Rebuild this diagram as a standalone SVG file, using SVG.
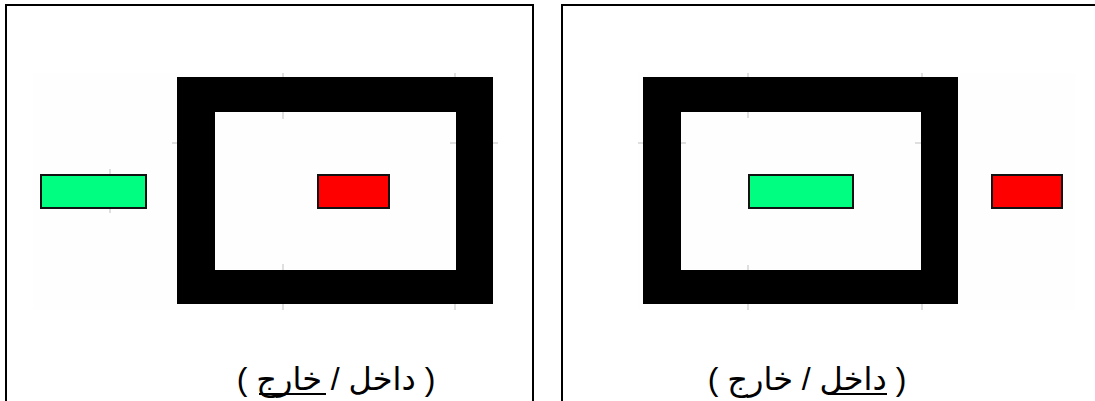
<svg xmlns="http://www.w3.org/2000/svg" width="1095" height="401" viewBox="0 0 1095 401">
  <style>
    .panel { fill: none; stroke: #000; stroke-width: 2; }
    .plot { fill: #fefefe; stroke: none; }
    .frame { fill: #000; fill-rule: evenodd; }
    .green { fill: #00ff80; stroke: #111; stroke-width: 2; }
    .red { fill: #ff0000; stroke: #111; stroke-width: 2; }
    .tick { stroke: #c0c0c0; stroke-width: 1; }
    .label { font-family: "Liberation Sans", "DejaVu Sans", sans-serif; font-size: 32px; fill: #000; }
    .ul { stroke: #000; stroke-width: 2; }
  </style>
  <rect width="1095" height="401" fill="#ffffff"/>

  <g id="panel-left">
    <path class="panel" d="M6,401 V5 H533 V401"/>
    <rect class="plot" x="33" y="73" width="465" height="237"/>
    <g class="tick">
      <line x1="283" y1="73" x2="283" y2="80"/>
      <line x1="283" y1="112" x2="283" y2="119"/>
      <line x1="283" y1="264" x2="283" y2="270"/>
      <line x1="283" y1="304" x2="283" y2="310"/>
      <line x1="455" y1="73" x2="455" y2="80"/>
      <line x1="455" y1="304" x2="455" y2="310"/>
      <line x1="172" y1="143" x2="177" y2="143"/>
      <line x1="450" y1="143" x2="456" y2="143"/>
      <line x1="493" y1="143" x2="498" y2="143"/>
      <line x1="110" y1="169" x2="110" y2="174"/>
      <line x1="110" y1="208" x2="110" y2="213"/>
    </g>
    <path id="frame-left" class="frame" d="M177,77 H493 V304 H177 Z M215,112 V270 H456 V112 Z"/>
    <rect id="green-left" class="green" x="41" y="175" width="105" height="33"/>
    <rect id="red-left" class="red" x="318" y="175" width="71" height="33"/>
    <text id="label-left" class="label" x="336" y="390" text-anchor="middle" direction="rtl">( داخل / خارج )</text>
    <line class="ul" x1="259" y1="394" x2="326" y2="394"/>
  </g>

  <g id="panel-right">
    <path class="panel" d="M562,401 V5 H1096"/>
    <rect class="plot" x="638" y="73" width="437" height="237"/>
    <g class="tick">
      <line x1="748" y1="73" x2="748" y2="80"/>
      <line x1="748" y1="112" x2="748" y2="118"/>
      <line x1="748" y1="265" x2="748" y2="270"/>
      <line x1="748" y1="304" x2="748" y2="310"/>
      <line x1="922" y1="73" x2="922" y2="80"/>
      <line x1="922" y1="304" x2="922" y2="310"/>
      <line x1="638" y1="143" x2="643" y2="143"/>
      <line x1="681" y1="143" x2="686" y2="143"/>
      <line x1="915" y1="143" x2="921" y2="143"/>
    </g>
    <path id="frame-right" class="frame" d="M643,77 H958 V304 H643 Z M681,112 V270 H921 V112 Z"/>
    <rect id="green-right" class="green" x="749" y="175" width="104" height="33"/>
    <rect id="red-right" class="red" x="992" y="175" width="70" height="33"/>
    <text id="label-right" class="label" x="807" y="390" text-anchor="middle" direction="rtl">( داخل / خارج )</text>
    <line class="ul" x1="828" y1="394" x2="887" y2="394"/>
  </g>

  <g id="connectors"/>
</svg>
